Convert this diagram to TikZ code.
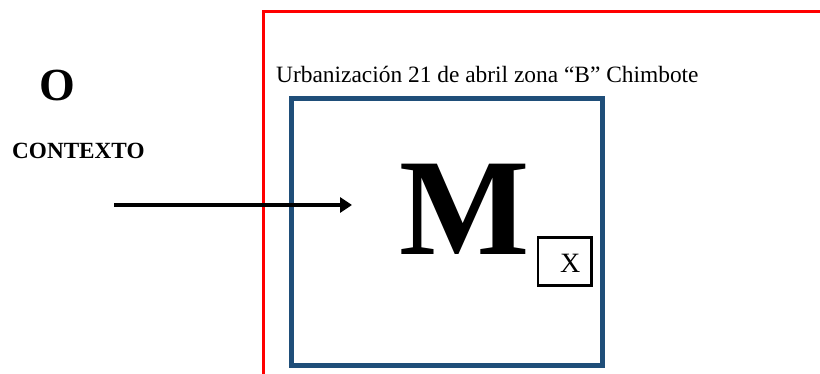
\documentclass[tikz,border=0pt]{standalone}
\usepackage{fontspec}
\setmainfont{Liberation Serif}
\usetikzlibrary{arrows.meta}
\definecolor{redline}{RGB}{255,0,0}
\definecolor{bluebox}{RGB}{31,78,121}
\tikzset{
  txt/.style={inner sep=0pt, anchor=base west},
  redframe/.style={draw=redline, line width=3.4pt},
  blueframe/.style={draw=bluebox, line width=4.5pt},
  subbox/.style={draw=black, line width=2.4pt},
  conn/.style={draw=black, line width=3.2pt, -{Triangle[length=12pt,width=15pt]}}
}
\begin{document}
\begin{tikzpicture}[x=1pt,y=-1pt]
\useasboundingbox (0,0) rectangle (820,374);
\clip (0,0) rectangle (820,374);
\fill[white] (0,0) rectangle (820,374);
% red frame (continues beyond the picture edges)
\draw[redframe] (263.5,400) -- (263.5,11.5) -- (840,11.5);
% blue frame
\draw[blueframe] (291.7,98.7) rectangle (602.5,365.5);
% texts
\node[txt, font=\bfseries\fontsize{46}{50}\selectfont] (O) at (39.5,101) {O};
\node[txt, font=\bfseries\fontsize{23.2}{26}\selectfont] (contexto) at (12,158.3) {CONTEXTO};
\node[txt, font=\fontsize{23.4}{28}\selectfont] (label) at (276,82.7) {Urbanización 21 de abril zona “B” Chimbote};
\node[txt, font=\bfseries\fontsize{138}{150}\selectfont] (M) at (399.5,255) {M};
\draw[subbox] (537.7,237.7) rectangle (591.3,285.7);
\node[txt, font=\fontsize{28}{32}\selectfont] (X) at (560,273) {X};
% arrow
\coordinate (a1) at (114,205);
\coordinate (a2) at (352,205);
\draw[conn] (a1) -- (a2);
\end{tikzpicture}
\end{document}
